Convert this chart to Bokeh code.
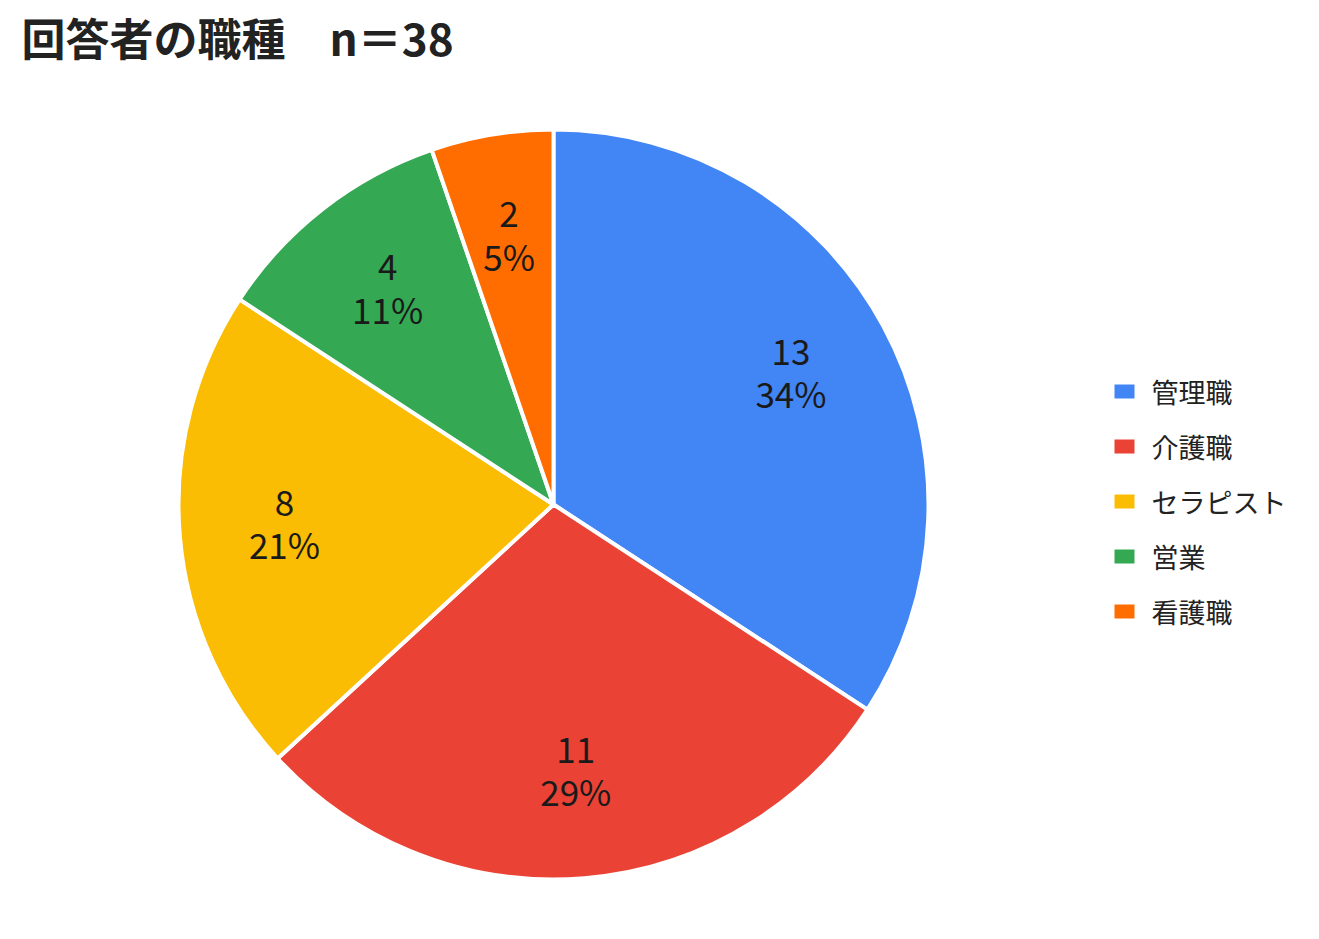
import math
from bokeh.plotting import figure
from bokeh.models import Range1d, ColumnDataSource
from bokeh.core.properties import value
from bokeh.embed import file_html
from bokeh.resources import INLINE

title_text = "回答者の職種　n＝38"
categories = ["管理職", "介護職", "セラピスト", "営業", "看護職"]
counts = [13, 11, 8, 4, 2]
colors = ["#4285F4", "#EA4335", "#FBBC04", "#34A853", "#FF6D01"]

FONT = "Noto Sans CJK JP"
W, H = 1303, 923

def fy(py):
    # picture pixel y -> data y
    return H - py

def fx(px):
    return px

p = figure(width=W, height=H, output_backend="svg", toolbar_location=None,
           x_range=Range1d(0, W), y_range=Range1d(0, H), min_border=0)
p.axis.visible = False
p.grid.visible = False
p.outline_line_color = None
p.background_fill_color = "white"

cx, cy, r = fx(553), fy(504), 375
total = sum(counts)
starts, ends, lx, ly, vals, pcts = [], [], [], [], [], []
cum = 0
for c in counts:
    a0 = math.pi / 2 - 2 * math.pi * cum / total
    a1 = math.pi / 2 - 2 * math.pi * (cum + c) / total
    starts.append(a0)
    ends.append(a1)
    mid = (a0 + a1) / 2
    lx.append(cx + 0.72 * r * math.cos(mid))
    ly.append(cy + 0.72 * r * math.sin(mid))
    vals.append(str(c))
    pcts.append(f"{round(100 * c / total + 1e-9)}%")
    cum += c

src = ColumnDataSource(dict(start=starts, end=ends, color=colors,
                            lx=lx, ly=ly, v=vals, pc=pcts))
p.wedge(x=cx, y=cy, radius=r, start_angle="start", end_angle="end",
        direction="clock", fill_color="color", line_color="white",
        line_width=4, source=src)

p.text(x="lx", y="ly", text="v", source=src, text_font=value(FONT),
       text_font_size="35px", text_color="#1a1a1a", text_align="center",
       text_baseline="middle", y_offset=-24)
p.text(x="lx", y="ly", text="pc", source=src, text_font=value(FONT),
       text_font_size="35px", text_color="#1a1a1a", text_align="center",
       text_baseline="middle", y_offset=17)

# title
p.text(x=[fx(21)], y=[fy(36)], text=[title_text], text_font=value(FONT),
       text_font_size="44px", text_font_style="bold", text_color="#222222",
       text_align="left", text_baseline="middle")

# legend
leg_y = [fy(391 + 55 * i) for i in range(len(categories))]
p.rect(x=[fx(1124)] * len(categories), y=leg_y, width=20, height=14,
       fill_color=colors, line_color=None)
p.text(x=[fx(1151)] * len(categories), y=leg_y, text=categories,
       text_font=value(FONT), text_font_size="27px", text_color="#222222",
       text_align="left", text_baseline="middle")

open("out.html", "w").write(file_html(p, INLINE))
